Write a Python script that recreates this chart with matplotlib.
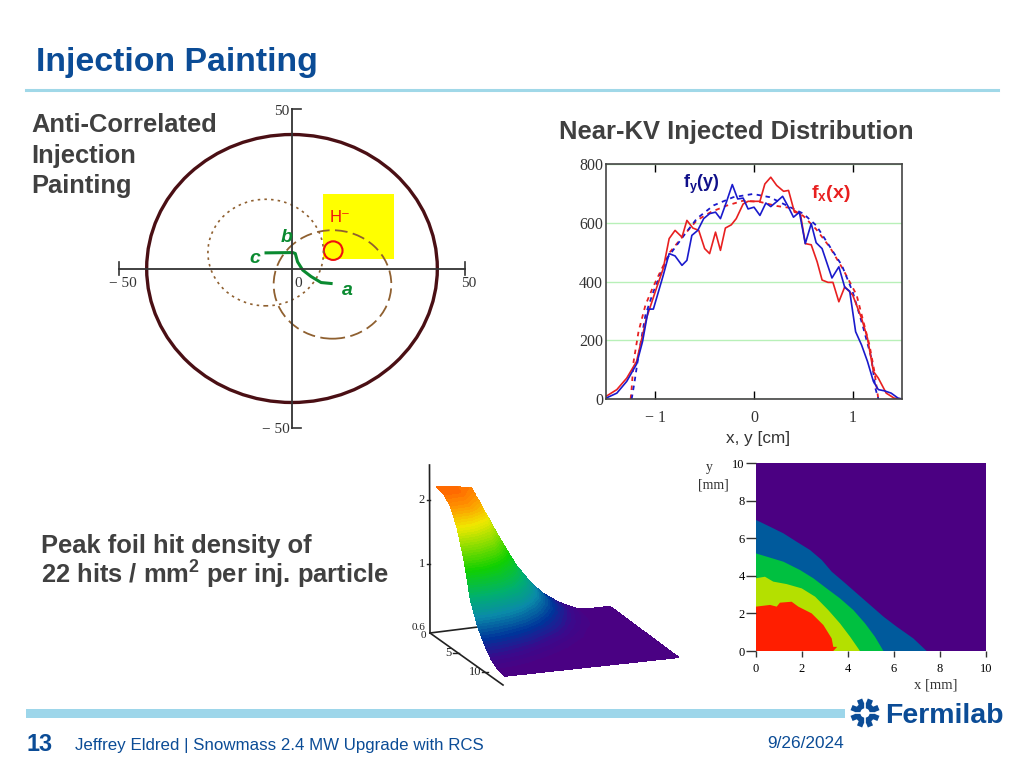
import numpy as np
import matplotlib
matplotlib.use("Agg")
import matplotlib.pyplot as plt
from matplotlib.colors import LinearSegmentedColormap
from matplotlib.patches import Ellipse, Rectangle

W, H = 1024, 768
SANS = "Liberation Sans"
SERIF = "Liberation Serif"
BLUE = "#0b4c96"
GREY = "#404040"
AXIS = "#333333"

# painting diagram (mm)
outer_r = 42
dashed_center, dashed_r = (11.7, -5.0), 17
dotted_center, dotted_r = (-7.6, 5.0), 16.7
foil_x, foil_y = (9.0, 29.5), (3.1, 23.5)
spot_center, spot_r = (11.9, 5.6), 2.7
green_x = [11.3, 8.4, 5.5, 3.1, 1.6, 0.95, 0.2, -7.5]
green_y = [-4.7, -4.4, -2.5, -0.5, 2.1, 4.7, 5.0, 4.9]

# injected distribution
red_x = [-1.5, -1.39, -1.29, -1.19, -1.09, -0.99, -0.92, -0.86, -0.80, -0.73, -0.68, -0.62, -0.56, -0.50, -0.45, -0.39,
         -0.34, -0.29, -0.23, -0.18, -0.11, -0.06, 0.06, 0.11, 0.17, 0.23, 0.30, 0.35, 0.41, 0.47, 0.52, 0.58, 0.64,
         0.69, 0.75, 0.80, 0.86, 0.92, 1.00, 1.09, 1.15, 1.21, 1.26, 1.34, 1.42, 1.50]
red_y = [9, 32, 71, 128, 275, 376, 444, 546, 574, 551, 608, 582, 574, 512, 495, 568, 506, 582, 593, 614, 664, 673, 673,
         732, 755, 727, 707, 710, 636, 631, 529, 525, 467, 405, 397, 397, 331, 382, 354, 275, 207, 94, 71, 20, 3, 0]
blue_x = [-1.5, -1.39, -1.29, -1.19, -1.13, -1.07, -1.02, -0.92, -0.86, -0.80, -0.73, -0.68, -0.63, -0.57, -0.51, -0.45,
          -0.39, -0.34, -0.28, -0.22, -0.165, -0.11, -0.06, 0, 0.06, 0.12, 0.17, 0.23, 0.29, 0.35, 0.40, 0.46, 0.52,
          0.58, 0.63, 0.69, 0.79, 0.86, 0.92, 0.97, 1.03, 1.09, 1.15, 1.21, 1.26, 1.32, 1.39, 1.46, 1.5]
blue_y = [3, 20, 60, 119, 195, 306, 306, 421, 495, 487, 455, 472, 557, 574, 614, 631, 636, 614, 670, 730, 681, 684, 647,
          653, 625, 667, 655, 672, 690, 653, 619, 636, 529, 597, 532, 512, 412, 450, 380, 367, 229, 184, 128, 60, 32,
          28, 20, 3, 0]
red_fit_x = [-1.25, -1.24, -1.22, -1.17, -1.10, -1.03, -0.95, -0.85, -0.71, -0.58, -0.44, -0.28, -0.11, 0.06, 0.23,
             0.36, 0.50, 0.63, 0.77, 0.90, 1.04, 1.10, 1.17, 1.22, 1.26]
red_fit_y = [0, 37, 128, 230, 320, 376, 433, 501, 558, 608, 636, 658, 675, 671, 657, 651, 623, 578, 516, 443, 354, 275,
             184, 94, 0]
blue_fit_x = [-1.24, -1.21, -1.17, -1.10, -1.02, -0.88, -0.71, -0.58, -0.41, -0.21, -0.01, 0.16, 0.33, 0.50, 0.63, 0.77,
              0.89, 1.0, 1.10, 1.19, 1.23, 1.26]
blue_fit_y = [0, 60, 150, 286, 365, 479, 557, 614, 659, 687, 698, 687, 659, 631, 591, 518, 455, 365, 252, 139, 37, 0]

# foil hit density, rows are y = 0..10 mm, columns x = 0..10 mm
surf_axis = [0, 1, 2, 3, 4, 5, 6, 7, 8, 9, 10]
surf_z = [
    [2.07, 2.05, 2.00, 1.42, 0.95, 0.60, 0.33, 0.15, 0.03, 0, 0],
    [2.05, 2.04, 1.90, 1.40, 0.92, 0.58, 0.32, 0.14, 0.03, 0, 0],
    [1.95, 1.93, 1.75, 1.30, 0.85, 0.52, 0.28, 0.11, 0.02, 0, 0],
    [1.70, 1.65, 1.45, 1.05, 0.70, 0.42, 0.20, 0.07, 0.01, 0, 0],
    [1.30, 1.25, 1.05, 0.78, 0.50, 0.28, 0.12, 0.03, 0, 0, 0],
    [0.75, 0.72, 0.62, 0.48, 0.30, 0.16, 0.05, 0.01, 0, 0, 0],
    [0.45, 0.42, 0.35, 0.25, 0.13, 0.05, 0.01, 0, 0, 0, 0],
    [0.25, 0.22, 0.16, 0.09, 0.04, 0.01, 0, 0, 0, 0, 0],
    [0.10, 0.08, 0.05, 0.02, 0, 0, 0, 0, 0, 0, 0],
    [0.02, 0.01, 0, 0, 0, 0, 0, 0, 0, 0, 0],
    [0, 0, 0, 0, 0, 0, 0, 0, 0, 0, 0],
]
surf_levels = [0, 0.12, 0.3, 0.55, 0.8, 1.15, 1.7, 1.95, 2.2]
surf_colors = ["#4b0082", "#3a0a8c", "#00339a", "#0a8aa8", "#00b070", "#10d000", "#f0e800", "#ff9000", "#ff3c00"]

# contour map boundaries (mm)
band_x = [
    [0, 0.61, 1.19, 1.77, 2.35, 2.86, 3.29, 3.8, 4.38, 4.96, 5.54, 6.12, 6.84, 7.42],
    [0, 0.46, 1.19, 1.91, 2.49, 3.07, 3.65, 4.23, 4.74, 5.17, 5.54],
    [0, 0.39, 0.75, 1.33, 1.99, 2.57, 3.14, 3.65, 4.09, 4.52],
    [0, 0.61, 0.9, 1.04, 1.55, 1.84, 2.42, 2.93, 3.29, 3.36, 3.53, 3.36],
]
band_y = [
    [6.97, 6.61, 6.26, 5.81, 5.37, 4.84, 4.22, 3.69, 3.07, 2.45, 1.83, 1.29, 0.67, 0],
    [5.19, 5.02, 4.75, 4.31, 3.87, 3.33, 2.8, 2.18, 1.47, 0.76, 0],
    [3.87, 3.95, 3.69, 3.56, 3.33, 2.89, 2.18, 1.47, 0.76, 0],
    [2.36, 2.45, 2.36, 2.57, 2.62, 2.36, 2.0, 1.38, 0.67, 0.22, 0.22, 0],
]
band_colors = ["#005a9c", "#00c040", "#b4e000", "#ff1e00"]
map_ticks = [0, 2, 4, 6, 8, 10]


def px_axes(fig, left, top, right, bottom):
    return fig.add_axes([left / W, 1 - bottom / H, (right - left) / W, (bottom - top) / H])


fig = plt.figure(figsize=(W / 100, H / 100), dpi=100)
page = fig.add_axes([0, 0, 1, 1])
page.set_xlim(0, W)
page.set_ylim(H, 0)
page.axis("off")

# slide furniture
page.text(36, 71, "Injection Painting", family=SANS, weight="bold", fontsize=24.4, color=BLUE)
page.plot([26, 998], [90, 90], color="#a0d8e8", lw=2.2)
page.add_patch(Rectangle((26, 709), 819, 9, color="#9dd6ea", lw=0))
page.text(26, 751, "13", family=SANS, weight="bold", fontsize=16.8, color=BLUE)
page.text(75, 750, "Jeffrey Eldred | Snowmass 2.4 MW Upgrade with RCS", family=SANS, fontsize=12.2, color=BLUE)
page.text(767, 748, "9/26/2024", family=SANS, fontsize=12.4, color=BLUE)

# logo
page.text(885, 723, "Fermilab", family=SANS, weight="bold", fontsize=20.5, color=BLUE)
logo_x, logo_y = 865, 713
for ang in np.deg2rad([22, 68, 112, 158, 202, 248, 292, 338]):
    page.plot([logo_x + 6 * np.cos(ang), logo_x + 14.5 * np.cos(ang)],
              [logo_y + 6 * np.sin(ang), logo_y + 14.5 * np.sin(ang)], color=BLUE, lw=4, solid_capstyle="butt")
page.add_patch(Ellipse((logo_x, logo_y), 15, 15, fill=False, ec=BLUE, lw=4))
page.plot([logo_x - 15, logo_x + 15], [logo_y, logo_y], color="white", lw=1.2)
page.plot([logo_x, logo_x], [logo_y - 15, logo_y + 15], color="white", lw=1.2)

for y, line in zip([132, 163, 193], ["Anti-Correlated", "Injection", "Painting"]):
    page.text(31, y, line, family=SANS, weight="bold", fontsize=18.4, color=GREY)
page.text(559, 139, "Near-KV Injected Distribution", family=SANS, weight="bold", fontsize=18.35, color=GREY)
page.text(41, 553, "Peak foil hit density of", family=SANS, weight="bold", fontsize=18.35, color=GREY)
page.text(41, 584, "22 hits / mm$\\mathregular{^{2}}$ per inj. particle", family=SANS, weight="bold", fontsize=18.35,
          color=GREY, math_fontfamily="custom")

# painting diagram
ax = px_axes(fig, 119, 109, 465, 428)
ax.patch.set_alpha(0)
ax.set_xlim(-50, 50)
ax.set_ylim(-50, 50)
for side in ["top", "right"]:
    ax.spines[side].set_visible(False)
for side in ["left", "bottom"]:
    ax.spines[side].set_position("zero")
    ax.spines[side].set_color(AXIS)
    ax.spines[side].set_linewidth(1.3)
ax.set_xticks([])
ax.set_yticks([])
for x in [-50, 50]:
    ax.plot([x, x], [-2, 2], color=AXIS, lw=1.2, clip_on=False)
for y in [-50, 50]:
    ax.plot([0, 2.5], [y, y], color=AXIS, lw=1.2, clip_on=False)
ax.add_patch(Rectangle((foil_x[0], foil_y[0]), foil_x[1] - foil_x[0], foil_y[1] - foil_y[0], color="#ffff00", lw=0))
ax.add_patch(Ellipse(spot_center, 2 * spot_r, 2 * spot_r * 1.08, fill=False, ec="#f01010", lw=1.5))
ax.add_patch(Ellipse((0, 0), 2 * outer_r, 2 * outer_r, fill=False, ec="#4a0f14", lw=2.4))
ax.add_patch(Ellipse(dashed_center, 2 * dashed_r, 2 * dashed_r, fill=False, ec="#8f6030", lw=1.3, ls=(0, (7, 3))))
ax.add_patch(Ellipse(dotted_center, 2 * dotted_r, 2 * dotted_r, fill=False, ec="#8f6030", lw=1.2, ls=(0, (1.5, 2.5))))
ax.plot(green_x, green_y, color="#0a8a30", lw=2.2)
for x, txt in [(-49, "\u2212 50"), (51, "50"), (1.8, "0")]:
    ax.text(x, -4.7, txt, family=SERIF, fontsize=11, color=AXIS, ha="center", va="center", clip_on=False)
ax.text(-0.8, 49.2, "50", family=SERIF, fontsize=11, color=AXIS, ha="right", va="center")
ax.text(-0.6, -50.5, "\u2212 50", family=SERIF, fontsize=11, color=AXIS, ha="right", va="center")
ax.text(13.8, 16, "H\u207b", family=[SANS, "DejaVu Sans"], fontsize=12, color="#f01010", ha="center", va="center")
for x, y, txt in [(-1.7, 9.6, "b"), (-10.7, 3, "c"), (16, -7, "a")]:
    ax.text(x, y, txt, family=SANS, style="italic", weight="bold", fontsize=14, color="#0a8a30", ha="center", va="center")

# injected distribution
ax = px_axes(fig, 606, 164, 902, 399)
ax.set_xlim(-1.5, 1.5)
ax.set_ylim(0, 800)
ax.set_xticks([-1, 0, 1])
ax.set_xticklabels(["\u2212 1", "0", "1"], family=SERIF, fontsize=11.5, color=AXIS)
ax.set_yticks([0, 200, 400, 600, 800])
ax.set_yticklabels(["0", "200", "400", "600", "800"], family=SERIF, fontsize=11.5, color=AXIS)
ax.tick_params(axis="x", direction="in", top=True, length=6, width=1, pad=8)
ax.tick_params(axis="y", length=0, pad=2)
ax.grid(axis="y", color="#b8f0b8", lw=1)
ax.set_axisbelow(True)
for spine in ax.spines.values():
    spine.set_color("#444444")
    spine.set_linewidth(1.2)
ax.plot(red_fit_x, red_fit_y, color="#e82020", lw=1.3, ls=(0, (2.5, 2.5)))
ax.plot(blue_fit_x, blue_fit_y, color="#1a1acc", lw=1.3, ls=(0, (2.5, 2.5)))
ax.plot(red_x, red_y, color="#e82020", lw=1.2)
ax.plot(blue_x, blue_y, color="#1a1acc", lw=1.2)
page.text(726, 443, "x, y [cm]", family=SANS, fontsize=12.3, color=AXIS)
ax.text(683, 184, "f$\\mathregular{_{y}}$(y)", family=SANS, weight="bold", fontsize=13, color="#10108a", va="center",
        math_fontfamily="custom", transform=page.transData)
ax.text(811, 193, "f$\\mathregular{_{x}}$(x)", family=SANS, weight="bold", fontsize=14, color="#e82020", va="center",
        math_fontfamily="custom", transform=page.transData)

# surface, projected by hand to match the view of the picture
origin = np.array([436.7, 625.3])
ex = np.array([17.33, -1.87])
ey = np.array([6.83, 5.07])
ez = np.array([0.0, -66.7])
gx, gy = np.meshgrid(surf_axis, surf_axis)
z = np.array(surf_z)
sx = origin[0] + gx * ex[0] + gy * ey[0]
sy = origin[1] + gx * ex[1] + gy * ey[1] + z * ez[1]
cmap = LinearSegmentedColormap.from_list("surf", list(zip(np.array(surf_levels) / surf_levels[-1], surf_colors)))
shade = page.contourf(sx, sy, z, levels=np.linspace(0, 2.2, 70), cmap=cmap, zorder=3)
shade.set_edgecolor("face")
shade.set_linewidth(0.4)
page.plot([429.5, 430], [465, 633], color="#222222", lw=1.2, zorder=2)
page.plot([430, 478], [633, 627], color="#222222", lw=1.2, zorder=2)
page.plot([430, 503], [633, 685], color="#222222", lw=1.2, zorder=2)
for y, txt in [(500, "2"), (564, "1")]:
    page.plot([427, 430], [y, y], color="#222222", lw=1)
    page.text(425, y, txt, family=SERIF, fontsize=9, color="#222222", ha="right", va="center")
page.text(426, 627, "0.6", family=SERIF, fontsize=8, color="#222222", ha="right", va="center")
page.text(426, 636, "0", family=SERIF, fontsize=8, color="#222222", ha="right", va="center")
page.plot([453, 459], [653, 653], color="#222222", lw=1)
page.text(452, 653, "5", family=SERIF, fontsize=9, color="#222222", ha="right", va="center")
page.plot([482, 488], [672, 672], color="#222222", lw=1)
page.text(481, 672, "10", family=SERIF, fontsize=9, color="#222222", ha="right", va="center")

# contour map
ax = px_axes(fig, 756, 463, 986, 651)
ax.set_xlim(0, 10)
ax.set_ylim(0, 10)
ax.set_facecolor("#4b0082")
for xs, ys, color in zip(band_x, band_y, band_colors):
    ax.fill(xs + [0], ys + [0], color=color, lw=0)
ax.set_xticks(map_ticks)
ax.set_yticks(map_ticks)
ax.tick_params(axis="x", labelsize=9, length=4, width=1, color=AXIS, pad=5)
ax.tick_params(axis="y", labelsize=9, length=7, width=1, color=AXIS, pad=1)
for label in ax.get_xticklabels() + ax.get_yticklabels():
    label.set_family(SERIF)
for spine in ax.spines.values():
    spine.set_visible(False)
page.text(914, 685, "x [mm]", family=SERIF, fontsize=10.5, color=AXIS, va="center")
page.text(709, 468, "y", family=SERIF, fontsize=10, color=AXIS, ha="center", va="center")
page.text(713, 485, "[mm]", family=SERIF, fontsize=10, color=AXIS, ha="center", va="center")

fig.savefig("out.png", dpi=100)
